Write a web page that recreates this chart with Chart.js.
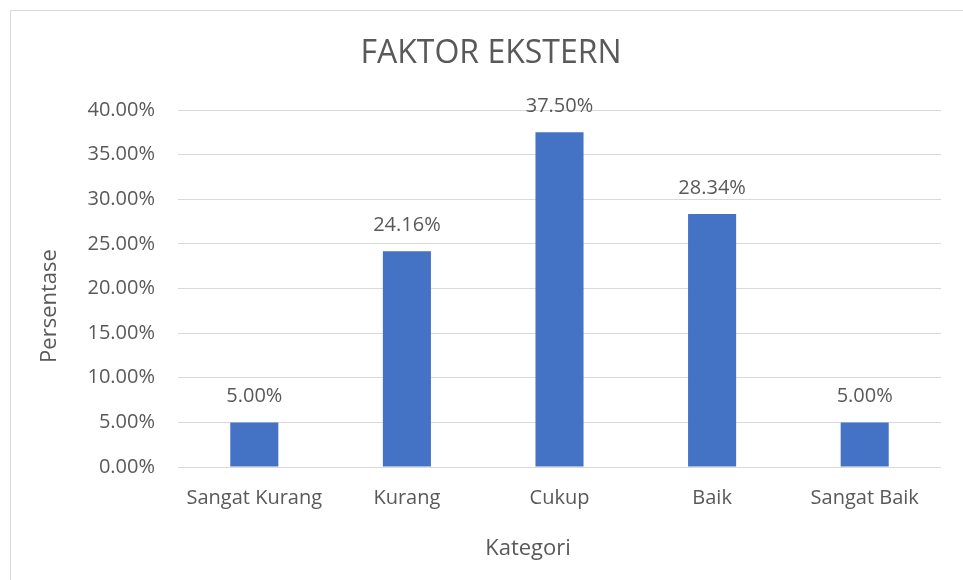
<!DOCTYPE html>
<html>
<head>
<meta charset="utf-8">
<script src="https://cdn.jsdelivr.net/npm/chart.js@4"></script>
<style>
  html, body { margin: 0; padding: 0; background: #fff; overflow: hidden; }
  #wrap { position: relative; width: 963px; height: 580px; }
  #frame { position: absolute; left: 10px; top: 10px; width: 980px; height: 600px; border: 1px solid #d9d9d9; box-sizing: border-box; pointer-events: none; }
  canvas { position: absolute; left: 0; top: 0; }
</style>
</head>
<body>
<div id="wrap">
  <canvas id="chart" width="963" height="580"></canvas>
  <div id="frame"></div>
</div>
<script>
const categories = ['Sangat Kurang', 'Kurang', 'Cukup', 'Baik', 'Sangat Baik'];
const values = [5.00, 24.16, 37.50, 28.34, 5.00];
const yTicks = [0, 5, 10, 15, 20, 25, 30, 35, 40];

const chartTitle = 'FAKTOR EKSTERN';
const xTitle = 'Kategori';
const yTitle = 'Persentase';

const textColor = '#595959';
const gridColor = '#d9d9d9';
const fontFamily = "'Open Sans', 'Noto Sans', sans-serif";

// draws the value above each bar
const barLabels = {
    id: 'barLabels',
    afterDatasetsDraw(chart) {
        const { ctx } = chart;
        const meta = chart.getDatasetMeta(0);
        ctx.save();
        ctx.font = `20px ${fontFamily}`;
        ctx.fillStyle = textColor;
        ctx.textAlign = 'center';
        ctx.textBaseline = 'middle';
        meta.data.forEach((bar, i) => {
            ctx.fillText(values[i].toFixed(2) + '%', bar.x, bar.y - 26);
        });
        ctx.restore();
    }
};

// chart title and axis titles, placed like the Excel original
const titles = {
    id: 'titles',
    afterDraw(chart) {
        const { ctx } = chart;
        ctx.save();
        ctx.fillStyle = textColor;
        ctx.textAlign = 'center';
        ctx.textBaseline = 'middle';

        ctx.font = `32px ${fontFamily}`;
        ctx.fillText(chartTitle, 491, 54);

        ctx.font = `22px ${fontFamily}`;
        ctx.fillText(xTitle, 528, 549);

        ctx.translate(50, 306);
        ctx.rotate(-Math.PI / 2);
        ctx.fillText(yTitle, 0, 0);
        ctx.restore();
    }
};

new Chart(document.getElementById('chart'), {
    type: 'bar',
    data: {
        labels: categories,
        datasets: [{
            data: values,
            backgroundColor: '#4472C4',
            categoryPercentage: 1,
            barPercentage: 0.315
        }]
    },
    options: {
        responsive: false,
        animation: false,
        layout: { padding: { left: 30, right: 22, top: 110, bottom: 14 } },
        plugins: {
            legend: { display: false },
            tooltip: { enabled: false },
            title: { display: false }
        },
        scales: {
            x: {
                grid: { display: false, drawTicks: false },
                border: { display: false },
                ticks: { color: textColor, font: { family: fontFamily, size: 20 }, padding: 19 },
                afterFit: scale => { scale.height = 580 - 467 - 14; }
            },
            y: {
                min: 0, max: 40,
                afterBuildTicks: scale => { scale.ticks = yTicks.map(v => ({ value: v })); },
                grid: { color: gridColor, drawTicks: false, lineWidth: 1 },
                border: { display: false },
                ticks: {
                    color: textColor, font: { family: fontFamily, size: 20 }, padding: 23,
                    callback: v => v.toFixed(2) + '%'
                },
                afterFit: scale => { scale.width = 178 - 30; }
            }
        }
    },
    plugins: [barLabels, titles]
});
</script>
</body>
</html>
